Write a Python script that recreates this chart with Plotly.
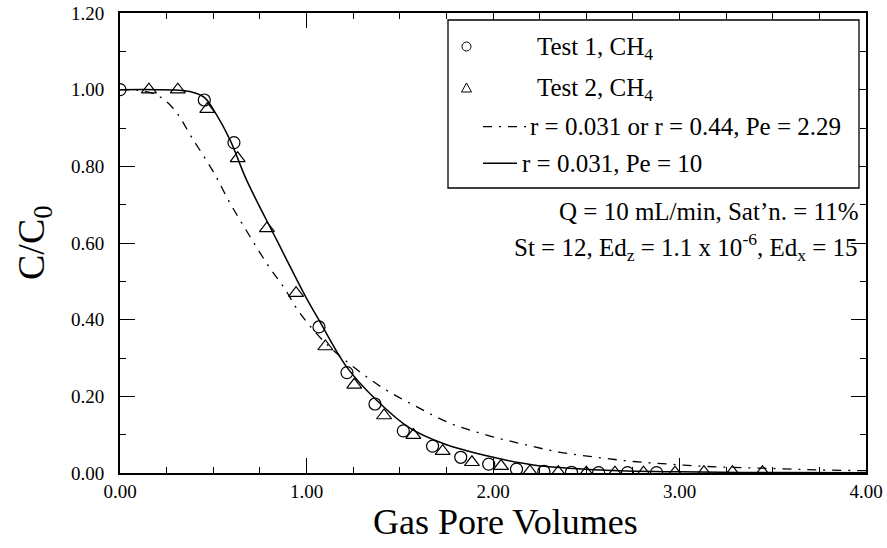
import plotly.graph_objects as go

# ---------------- data ----------------
test1_x = [0.00, 0.452, 0.611, 1.067, 1.217, 1.367, 1.519, 1.676, 1.827, 1.977,
           2.126, 2.273, 2.421, 2.566, 2.721, 2.877]
test1_y = [1.000, 0.973, 0.862, 0.381, 0.262, 0.180, 0.110, 0.070, 0.041, 0.023,
           0.010, 0.004, 0.002, 0.001, 0.001, 0.001]

test2_x = [0.155, 0.310, 0.468, 0.631, 0.788, 0.944, 1.101, 1.256, 1.416, 1.573,
           1.730, 1.887, 2.043, 2.198, 2.350, 2.500, 2.654, 2.807, 2.976, 3.131,
           3.284, 3.445]
test2_y = [1.000, 1.000, 0.949, 0.821, 0.638, 0.469, 0.330, 0.230, 0.150, 0.099,
           0.057, 0.028, 0.018, 0.004, 0.002, 0.001, 0.001, 0.001, 0.001, 0.002,
           0.002, 0.002]

pe10_x = [0.00, 0.20, 0.30, 0.375, 0.452, 0.518, 0.590, 0.679, 0.840, 1.001,
          1.067, 1.215, 1.376, 1.555, 1.733, 1.984, 2.216, 2.574, 3.000, 3.500, 4.000]
pe10_y = [1.000, 1.000, 0.999, 0.995, 0.980, 0.934, 0.869, 0.764, 0.608, 0.455,
          0.399, 0.277, 0.190, 0.117, 0.077, 0.043, 0.021, 0.008, 0.003, 0.001, 0.0005]

pe229_x = [0.00, 0.10, 0.197, 0.286, 0.393, 0.500, 0.590, 0.697, 0.804, 0.876,
           0.965, 1.100, 1.251, 1.412, 1.590, 1.769, 1.966, 2.163, 2.359, 2.556,
           2.752, 2.949, 3.146, 3.342, 3.557, 3.750, 4.000]
pe229_y = [1.000, 0.998, 0.986, 0.951, 0.869, 0.786, 0.704, 0.617, 0.534, 0.486,
           0.417, 0.340, 0.277, 0.221, 0.173, 0.130, 0.099, 0.075, 0.054, 0.041,
           0.030, 0.023, 0.017, 0.014, 0.011, 0.008, 0.006]

legend_labels = ["Test 1, CH<sub>4</sub>", "Test 2, CH<sub>4</sub>",
                 "r = 0.031 or r = 0.44, Pe = 2.29", "r = 0.031, Pe = 10"]
note_lines = ["Q = 10 mL/min, Sat\u2019n. = 11%",
              "St = 12, Ed<sub>z</sub> = 1.1 x 10<sup>-6</sup>, Ed<sub>x</sub> = 15"]

FONT = "Liberation Serif"
DASHDOT = "9px,7px,2px,7px"

fig = go.Figure()
fig.add_trace(go.Scatter(x=pe229_x, y=pe229_y, mode="lines", line_shape="spline",
                         line=dict(color="black", width=1.3, dash=DASHDOT), showlegend=False))
fig.add_trace(go.Scatter(x=pe10_x, y=pe10_y, mode="lines", line_shape="spline",
                         line=dict(color="black", width=1.5), showlegend=False))
fig.add_trace(go.Scatter(x=test1_x, y=test1_y, mode="markers",
                         marker=dict(symbol="circle-open", size=12, color="black",
                                     line=dict(width=1.2)), showlegend=False))
fig.add_trace(go.Scatter(x=test2_x, y=test2_y, mode="markers",
                         marker=dict(symbol="triangle-up-open", size=13, color="black",
                                     line=dict(width=1.2)), showlegend=False))

axis_common = dict(showgrid=False, zeroline=False, showline=True, linecolor="black",
                   linewidth=2, mirror="ticks", ticks="inside", ticklen=15,
                   tickwidth=1, tickcolor="black", automargin=False,
                   ticklabeloverflow="allow",
                   tickfont=dict(family=FONT, size=19, color="black"))
fig.update_xaxes(range=[0, 4], dtick=1, tickformat=".2f",
                 minor=dict(dtick=0.25, ticks="inside", ticklen=6, tickcolor="black"),
                 ticklabelstandoff=0, **axis_common)
fig.update_yaxes(range=[0, 1.2], dtick=0.2, tickformat=".2f",
                 minor=dict(dtick=0.1, ticks="inside", ticklen=6, tickcolor="black"),
                 ticklabelstandoff=10, **axis_common)

# ---- positions given in page pixels ----
X0, X1 = 120, 866
Y0, Y1 = 473, 13
def px(x):
    return (x - X0) / (X1 - X0)
def py(y):
    return (Y0 - y) / (Y0 - Y1)

shapes = [
    dict(type="rect", xref="paper", yref="paper", x0=px(448), x1=px(859),
         y0=py(188), y1=py(20), line=dict(color="black", width=1.3),
         fillcolor="white", layer="above"),
    dict(type="circle", xref="paper", yref="paper", xsizemode="pixel", ysizemode="pixel",
         xanchor=px(466.5), yanchor=py(46.5), x0=-4.5, x1=4.5, y0=-4.5, y1=4.5,
         line=dict(color="black", width=1), layer="above"),
    dict(type="path", xref="paper", yref="paper", xsizemode="pixel", ysizemode="pixel",
         xanchor=px(466.5), yanchor=py(88), path="M -5 -4 L 5 -4 L 0 5 Z",
         line=dict(color="black", width=1), layer="above"),
    dict(type="line", xref="paper", yref="paper", x0=px(483), x1=px(527),
         y0=py(126.7), y1=py(126.7), line=dict(color="black", width=1.3, dash=DASHDOT),
         layer="above"),
    dict(type="line", xref="paper", yref="paper", x0=px(483), x1=px(517),
         y0=py(163.3), y1=py(163.3), line=dict(color="black", width=1.5), layer="above"),
]

annotations = []
leg_pos = [(535, 48), (535, 89), (528, 126), (520, 163)]
for lab, (lx, ly) in zip(legend_labels, leg_pos):
    annotations.append(dict(text=lab, xref="paper", yref="paper", x=px(lx), y=py(ly),
                            xanchor="left", yanchor="middle", showarrow=False,
                            font=dict(family=FONT, size=25, color="black")))
for txt, ty in zip(note_lines, [212, 247]):
    annotations.append(dict(text=txt, xref="paper", yref="paper", x=px(860), y=py(ty),
                            xanchor="right", yanchor="middle", showarrow=False,
                            font=dict(family=FONT, size=25, color="black")))
# axis titles
annotations.append(dict(text="Gas Pore Volumes", xref="paper", yref="paper",
                        x=px(505), y=py(522), xanchor="center", yanchor="middle",
                        showarrow=False, font=dict(family=FONT, size=36, color="black")))
annotations.append(dict(text="C/C<sub>0</sub>", xref="paper", yref="paper",
                        x=px(34), y=py(243), xanchor="center", yanchor="middle",
                        textangle=-90, showarrow=False,
                        font=dict(family=FONT, size=38, color="black")))

fig.update_layout(width=887, height=548,
                  margin=dict(l=120, r=21, t=13, b=75, autoexpand=False),
                  paper_bgcolor="white", plot_bgcolor="white",
                  shapes=shapes, annotations=annotations, showlegend=False)

fig.write_html("out.html", config={"displayModeBar": False},
               post_script="document.body.style.margin='0px';document.body.style.overflow='hidden';")
